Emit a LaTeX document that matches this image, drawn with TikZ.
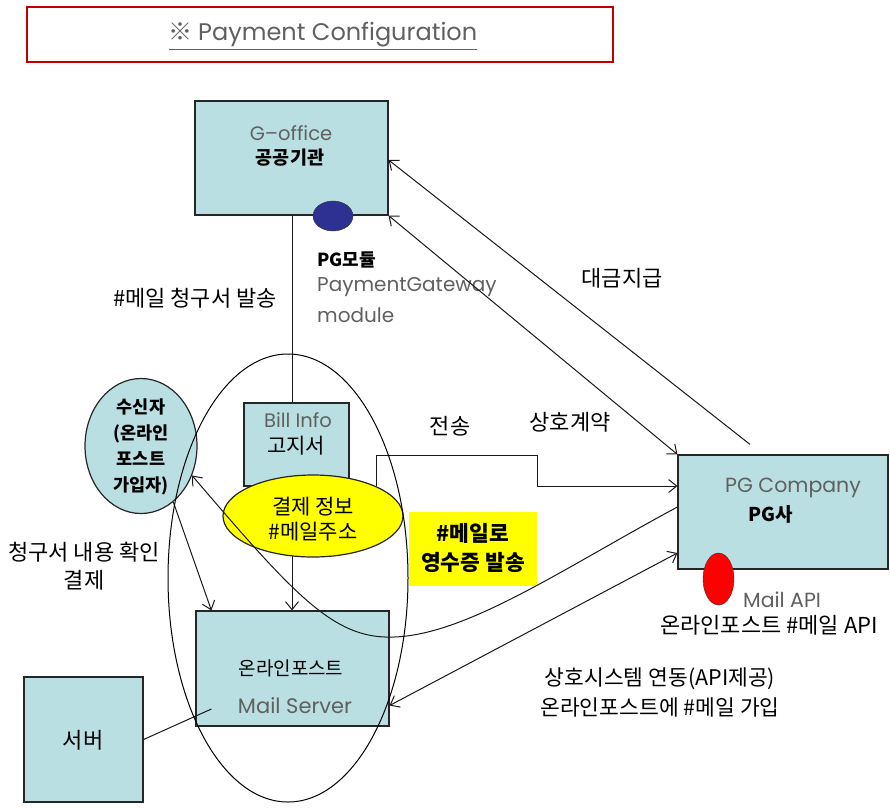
\documentclass[tikz,border=0pt]{standalone}
\usepackage{fontspec}
\setmainfont{Noto Sans CJK KR}
\newfontfamily\latf{Poppins}
\usetikzlibrary{shapes.geometric,arrows.meta}
\definecolor{boxc}{HTML}{B9DFE2}
\definecolor{navyc}{HTML}{2E3192}
\definecolor{redc}{HTML}{FF0000}
\definecolor{titlec}{HTML}{C00000}
\definecolor{grayc}{HTML}{606060}
\definecolor{yelc}{HTML}{FFFF00}
\tikzset{
  box/.style={draw=black!85, fill=boxc, line width=1.2pt, inner sep=0pt},
  conn/.style={line width=1pt, draw=black!90},
  arr/.style={conn, -{Straight Barb[length=8pt,width=13pt]}},
  darr/.style={conn, {Straight Barb[length=8pt,width=13pt]}-{Straight Barb[length=8pt,width=13pt]}},
  ko/.style={font=\fontsize{22}{26}\selectfont, align=center, inner sep=0pt},
  la/.style={font=\latf\fontsize{20}{24}\selectfont, text=grayc, inner sep=0pt},
}
\begin{document}
\begin{tikzpicture}[x=1pt,y=-1pt]
\useasboundingbox (0,0) rectangle (890,808);
% title
\node[draw=titlec, line width=2.5pt, minimum width=586, minimum height=55, inner sep=0pt] (title) at (320,34.5) {};
\node[inner sep=0pt, text=grayc, font=\fontsize{24}{28}\selectfont] (titleT) at (323,36) {\underline{※ {\latf Payment Configuration}}};
% G-office
\node[box, minimum width=193, minimum height=114] (goff) at (291.5,158) {};
\node[la, font=\latf\fontsize{19.5}{24}\selectfont] (goffA) at (291,133) {G–office};
\node[ko, font=\bfseries\fontsize{18.5}{22}\selectfont] (goffB) at (290,158) {공공기관};
\node[ellipse, draw=black!80, fill=navyc, minimum width=40, minimum height=30, inner sep=0pt] (pgm) at (333,216) {};
\node[ko, anchor=west, font=\bfseries\fontsize{18}{22}\selectfont] (pgmT) at (317,260) {PG모듈};
\node[la, anchor=west] (pgmA) at (317,287) {PaymentGateway};
\node[la, anchor=west] (pgmB) at (317,315) {module};
\node[ko] (mailsend) at (195,298) {\#메일 청구서 발송};
% Bill info
\node[box, minimum width=105, minimum height=83] (bill) at (296.5,444.5) {};
\node[la, font=\latf\fontsize{19.5}{24}\selectfont] (billA) at (298,420) {Bill Info};
\node[ko, font=\fontsize{21}{24}\selectfont] (billB) at (296,446) {고지서};
% mail server
\node[box, minimum width=193, minimum height=115] (mail) at (292.5,668.5) {};
\node[ko, font=\fontsize{19}{22}\selectfont] (mailA) at (291,668) {온라인포스트};
\node[la, font=\latf\fontsize{21}{24}\selectfont] (mailB) at (295,706) {Mail Server};
% server
\node[box, minimum width=119, minimum height=125] (server) at (83.5,739.5) {};
\node[ko] (serverT) at (83,740) {서버};
% receiver
\node[ellipse, draw=black!85, fill=boxc, line width=1.2pt, minimum width=112, minimum height=135, inner sep=0pt] (rcv) at (141,446) {};
\node[ko, font=\bfseries\fontsize{17.5}{26}\selectfont] (rcvT) at (141,447) {수신자\\(온라인\\포스트\\가입자)};
\node[ko, font=\fontsize{22}{28}\selectfont] (confirm) at (84,566) {청구서 내용 확인\\결제};
% PG company
\node[box, minimum width=210, minimum height=114] (pg) at (783,512) {};
\node[la, font=\latf\fontsize{20.5}{24}\selectfont] (pgA) at (793,488) {PG Company};
\node[ko, font=\bfseries\fontsize{19}{22}\selectfont] (pgB) at (771,514) {PG사};
\node[ellipse, draw=black!80, fill=redc, minimum width=31, minimum height=52, inner sep=0pt] (api) at (718.5,579) {};
\node[la, font=\latf\fontsize{20.5}{24}\selectfont] (apiA) at (782,600) {Mail API};
\node[ko] (apiB) at (769,625) {온라인포스트 \#메일 API};
% vertical lines
\coordinate (vx) at (292,0);
\draw[conn] (goff.south -| vx) -- (bill.north -| vx);
\draw[arr] (bill.south -| vx) -- (mail.north -| vx);
% yellow ellipse
\node[ellipse, draw=black!85, fill=yelc, line width=1.2pt, minimum width=180, minimum height=82, inner sep=0pt] (yel) at (313,516) {};
\node[ko, font=\fontsize{21}{25}\selectfont] (yelT) at (313,519) {결제 정보\\\#메일주소};
% yellow box
\node[fill=yelc, minimum width=128, minimum height=74, inner sep=0pt] (ybox) at (473,549) {};
\node[ko, font=\bfseries\fontsize{21.5}{29}\selectfont] (yboxT) at (473,548) {\#메일로\\영수증 발송};
% labels
\node[ko] (sendL) at (450,426) {전송};
\node[ko] (contractL) at (570,422) {상호계약};
\node[ko] (payL) at (622,278) {대금지급};
\node[ko, font=\fontsize{21.5}{30}\selectfont] (linkL) at (660,692) {상호시스템 연동(API제공)\\온라인포스트에 \#메일 가입};
% connectors
\draw[arr] (yel.25) |- (537,455) |- ([yshift=26pt]pg.west);
\draw[arr] ([shift={(-33pt,10pt)}]pg.north) -- ([yshift=-2pt]goff.east);
\draw[darr] (goff.south east) -- (pg.north west);
\draw[arr] (rcv.-60) -- ([xshift=16pt]mail.north west);
\draw[arr] ([yshift=5pt]pg.west) .. controls (560,570) and (460,640) .. (385,637)
  .. controls (330,635) and (290,590) .. (rcv.-30);
\draw[darr] ([yshift=-37pt]mail.east) -- ([yshift=-41pt]pg.west);
\draw[conn] (server.east) -- ([shift={(16pt,-40.5pt)}]mail.west);
% big ellipse
\node[ellipse, draw=black, line width=1pt, minimum width=240, minimum height=448, inner sep=0pt] (big) at (288,578) {};
\end{tikzpicture}
\end{document}
